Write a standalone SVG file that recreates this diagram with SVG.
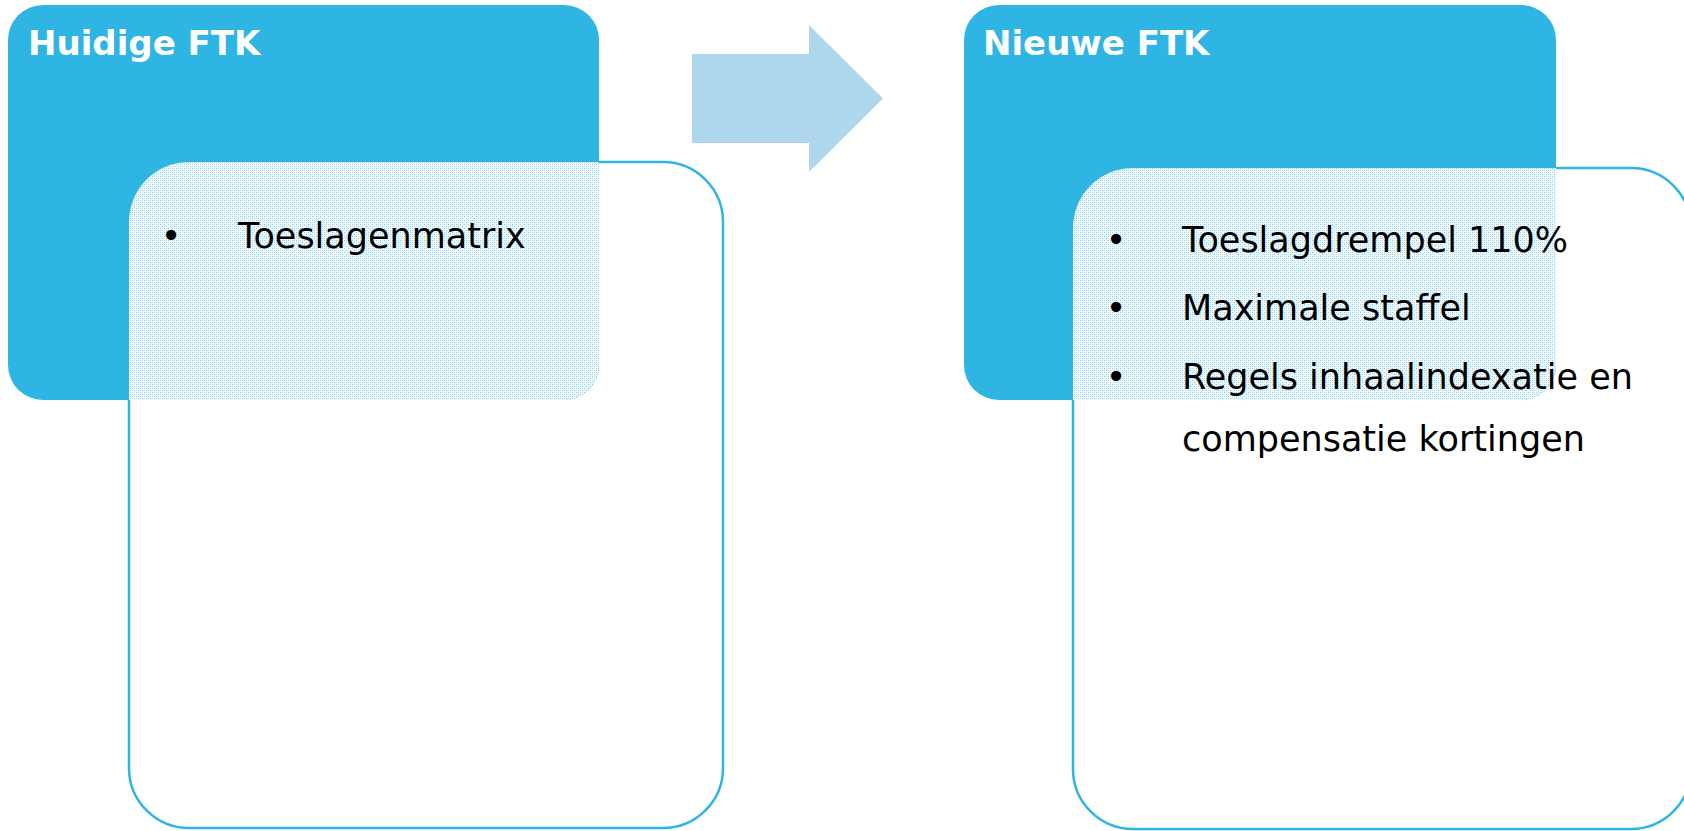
<svg xmlns="http://www.w3.org/2000/svg" width="1684" height="831" viewBox="0 0 1684 831">
<style>
.panel{fill:#ffffff;stroke:#2fb5e3;stroke-width:2.5}
.blue{fill:#2fb5e3}
.dots{fill:url(#dither)}
.title{font-family:"DejaVu Sans",sans-serif;font-weight:bold;font-size:34px;fill:#ffffff}
.body{font-family:"DejaVu Sans",sans-serif;font-size:35px;fill:#000000}
.bullet{font-family:"DejaVu Sans",sans-serif;font-size:35px;fill:#000000;text-anchor:middle}
</style>
<defs>
<pattern id="dither" width="4" height="4" patternUnits="userSpaceOnUse">
<rect width="4" height="4" fill="#f0f9fd"/>
<rect x="0" y="0" width="1" height="1" fill="#86d2f0"/>
<rect x="2" y="2" width="1" height="1" fill="#86d2f0"/>
<rect x="2" y="0" width="1" height="1" fill="#c4e8f7"/>
<rect x="0" y="2" width="1" height="1" fill="#c4e8f7"/>
</pattern>
<clipPath id="clipL"><rect x="8" y="5" width="591" height="395" rx="35"/></clipPath>
<clipPath id="clipR"><rect x="964" y="5" width="592" height="395" rx="35"/></clipPath>
</defs>
<g id="huidige">
<rect class="panel" x="129" y="162" width="594" height="666" rx="60"/>
<rect class="blue" x="8" y="5" width="591" height="395" rx="35"/>
<rect class="dots" x="129" y="162" width="594" height="666" rx="60" clip-path="url(#clipL)"/>
<text class="title" x="28" y="55">Huidige FTK</text>
<text class="bullet" x="171" y="248">•</text>
<text class="body" x="238" y="248">Toeslagenmatrix</text>
</g>
<g id="connectors">
<polygon points="692,54 809,54 809,25 883,98.5 809,172 809,143 692,143" fill="#aed7ee"/>
</g>
<g id="nieuwe">
<rect class="panel" x="1073" y="168" width="618" height="661" rx="60"/>
<rect class="blue" x="964" y="5" width="592" height="395" rx="35"/>
<rect class="dots" x="1073" y="168" width="618" height="661" rx="60" clip-path="url(#clipR)"/>
<text class="title" x="983" y="55">Nieuwe FTK</text>
<text class="bullet" x="1116" y="252">•</text>
<text class="body" x="1182" y="252">Toeslagdrempel 110%</text>
<text class="bullet" x="1116" y="320">•</text>
<text class="body" x="1182" y="320">Maximale staffel</text>
<text class="bullet" x="1116" y="389">•</text>
<text class="body" x="1182" y="389">Regels inhaalindexatie en</text>
<text class="body" x="1182" y="451">compensatie kortingen</text>
</g>
</svg>
